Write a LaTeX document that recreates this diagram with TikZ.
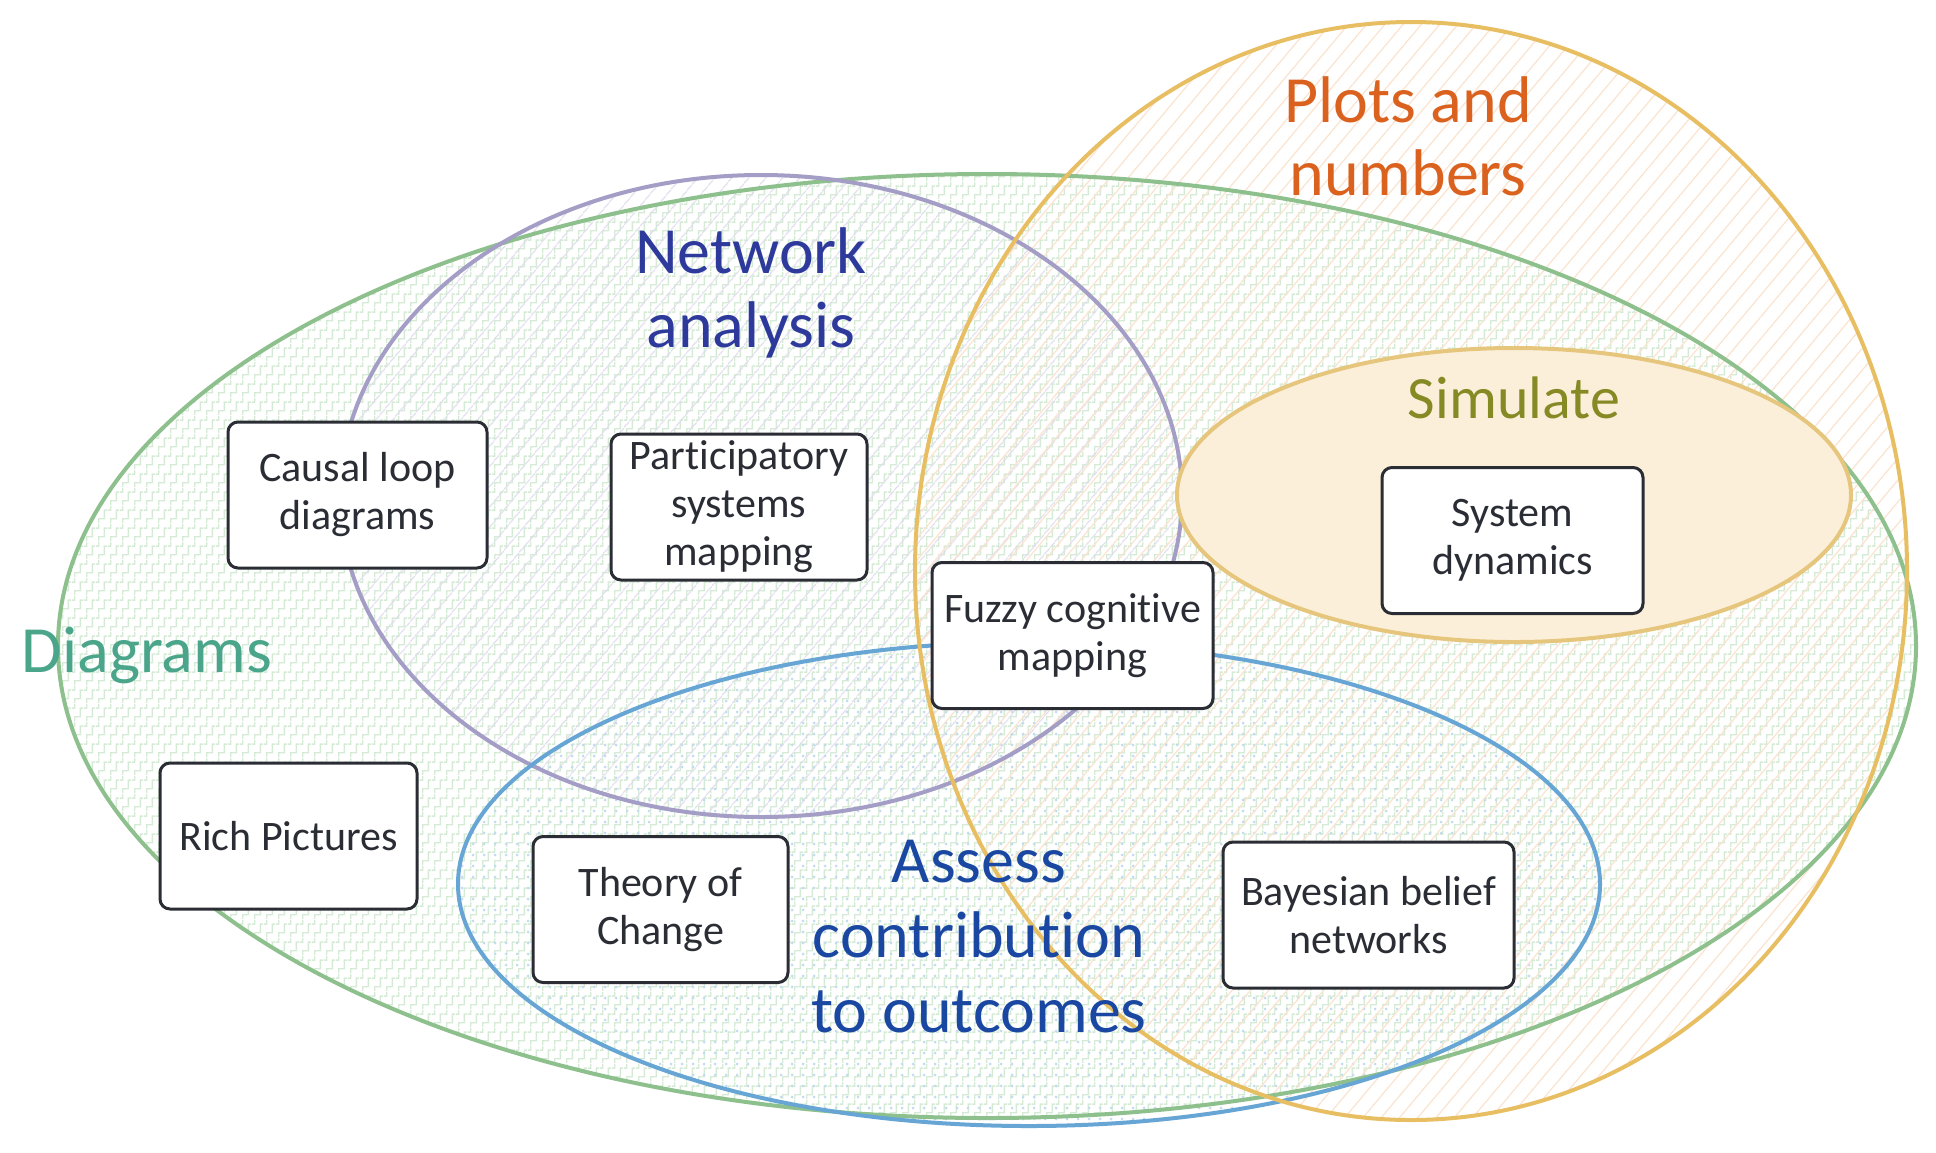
\documentclass[tikz,border=0pt]{standalone}
\usepackage{fontspec}
\setmainfont{Carlito}[Ligatures={NoCommon}]
\usetikzlibrary{patterns.meta}

\definecolor{boxline}{HTML}{2B2D35}
\definecolor{greenline}{HTML}{8DC08C}
\definecolor{greentext}{HTML}{4AA58A}
\definecolor{greenpat}{HTML}{D6EBD6}
\definecolor{purpline}{HTML}{A49EC6}
\definecolor{purptext}{HTML}{2D3A9B}
\definecolor{purppat}{HTML}{DEDCEC}
\definecolor{yelline}{HTML}{E8BE62}
\definecolor{yeltext}{HTML}{DA621E}
\definecolor{yelpat}{HTML}{FBE3CF}
\definecolor{simline}{HTML}{E6C67D}
\definecolor{simfill}{HTML}{FCEFD9}
\definecolor{simtext}{HTML}{858A25}
\definecolor{blueline}{HTML}{67A5D5}
\definecolor{bluetext}{HTML}{1A47A1}
\definecolor{bluepat}{HTML}{C2DBF1}

\tikzdeclarepattern{
  name=stairs,
  type=uncolored,
  bounding box={(0pt,0pt) and (6pt,9pt)},
  tile size={(6pt,9pt)},
  code={
    \draw[line width=0.75pt] (0pt,6.75pt) -- (1.5pt,6.75pt) -- (1.5pt,9pt);
    \draw[line width=0.75pt] (1.5pt,0pt) -- (1.5pt,2.25pt) -- (4.5pt,2.25pt) -- (4.5pt,6.75pt) -- (6pt,6.75pt);
  }
}

\begin{document}
\begin{tikzpicture}[x=0.5pt,y=-0.5pt,
  setline/.style={line width=2pt},
  method/.style={draw=boxline, line width=1.5pt, fill=white, rounded corners=5pt,
    align=center, text=boxline, font=\fontsize{21}{24}\selectfont,
    inner sep=0pt, minimum height=73pt},
  biglabel/.style={anchor=base, inner sep=0pt}
]
\useasboundingbox[fill=white] (0,0) rectangle (1936,1152);

% pattern fills
\fill[pattern={stairs}, pattern color=greenpat] (987,646) ellipse [x radius=464.5pt, y radius=236pt];
\fill[pattern={Lines[angle=50,distance=6.5pt,line width=0.6pt]}, pattern color=purppat] (761,496) ellipse [x radius=210.5pt, y radius=160.5pt];
\fill[pattern={Dots[distance=5.5pt,radius=0.75pt]}, pattern color=bluepat] (1029,884) ellipse [x radius=285.5pt, y radius=121pt];
\fill[pattern={Lines[angle=50,distance=7pt,line width=0.6pt]}, pattern color=yelpat] (1411,571) ellipse [x radius=248pt, y radius=274.5pt];

% outlines
\draw[setline, greenline] (987,646) ellipse [x radius=464.5pt, y radius=236pt];
\draw[setline, purpline] (761,496) ellipse [x radius=210.5pt, y radius=160.5pt];
\draw[setline, blueline] (1029,884) ellipse [x radius=285.5pt, y radius=121pt];
\draw[setline, yelline] (1411,571) ellipse [x radius=248pt, y radius=274.5pt];
\draw[setline, simline, fill=simfill] (1514,495) ellipse [x radius=168.5pt, y radius=73.5pt];

% method boxes
\node[method, minimum width=129.5pt] (cld) at (357.5,495) {Causal loop\\diagrams};
\node[method, minimum width=128pt] (psm) at (739,507) {Participatory\\systems\\mapping};
\node[method, minimum width=140.5pt] (fcm) at (1072.5,635.5) {Fuzzy cognitive\\mapping};
\node[method, minimum width=130.5pt] (sd) at (1512.5,540.5) {System\\dynamics};
\node[method, minimum width=128.5pt] (rp) at (288.5,836) {Rich Pictures};
\node[method, minimum width=127.5pt] (toc) at (660.5,909.5) {Theory of\\Change};
\node[method, minimum width=145.5pt] (bbn) at (1368.5,915) {Bayesian belief\\networks};

% set labels
\node[biglabel, text=greentext, font=\fontsize{33}{37}\selectfont] (ldiag) at (147,672) {Diagrams};
\node[biglabel, text=purptext, font=\fontsize{33}{37}\selectfont] (lnet) at (751,273)
  {\begin{tabular}[t]{@{}c@{}}Network\\analysis\end{tabular}};
\node[biglabel, text=yeltext, font=\fontsize{33}{36.5}\selectfont] (lplot) at (1408,122)
  {\begin{tabular}[t]{@{}c@{}}Plots and\\numbers\end{tabular}};
\node[biglabel, text=simtext, font=\fontsize{30}{34}\selectfont] (lsim) at (1514,418) {Simulate};
\node[biglabel, text=bluetext, font=\fontsize{33}{37.5}\selectfont] (lass) at (979,882)
  {\begin{tabular}[t]{@{}c@{}}Assess\\contribution\\to outcomes\end{tabular}};
\end{tikzpicture}
\end{document}
